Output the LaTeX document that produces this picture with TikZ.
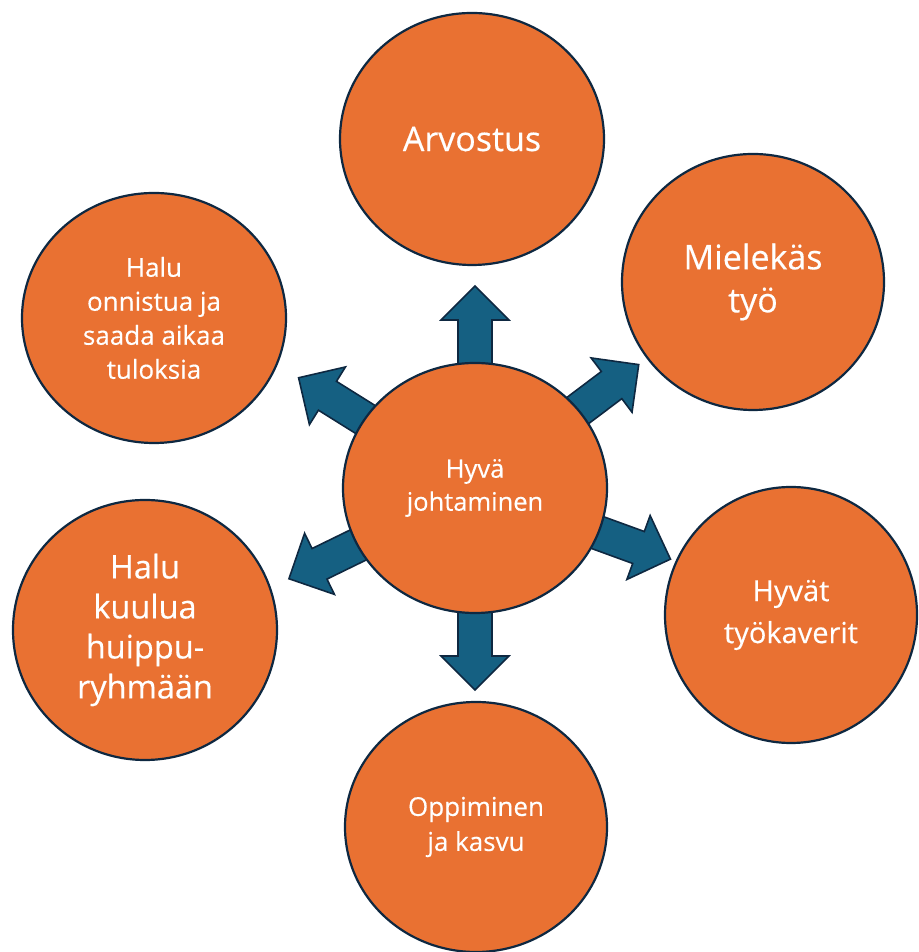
\documentclass[tikz,border=0pt]{standalone}
\usepackage{fontspec}
\setmainfont{Open Sans}[FakeBold=0.35]
\usetikzlibrary{shapes.geometric}
\definecolor{orangefill}{HTML}{E97132}
\definecolor{bluefill}{HTML}{156082}
\definecolor{darkline}{HTML}{0E2841}
\tikzset{
  bubble/.style={ellipse, draw=darkline, line width=2.2pt, fill=orangefill,
    text=white, align=center, inner sep=0pt},
  fatarrow/.style={draw=darkline, line width=1.6pt, fill=bluefill, line join=miter},
}
\begin{document}
\begin{tikzpicture}[x=1pt,y=1pt]
\useasboundingbox (0,0) rectangle (918,952);
\clip (0,0) rectangle (918,952);
\fill[white] (0,0) rectangle (918,952);
\coordinate (c) at (475,464);
% block arrows radiating from the centre
\foreach \a/\L in {90/202, 37/205, 148/208, 206/207, -20/208, -90/202} {
  \begin{scope}[shift={(c)}, rotate=\a]
    \draw[fatarrow] (0,-17) -- (\L-34,-17) -- (\L-34,-34) -- (\L,0)
      -- (\L-34,34) -- (\L-34,17) -- (0,17) -- cycle;
  \end{scope}
}
% circles
\node[bubble, minimum width=264, minimum height=250,
  font=\fontsize{25.5}{33}\selectfont] (cen) at (c) {Hyvä\\johtaminen};
\node[bubble, minimum width=264, minimum height=252,
  font=\fontsize{34}{40}\selectfont] (arv) at (472,813) {Arvostus};
\node[bubble, minimum width=262, minimum height=256,
  font=\fontsize{34}{43}\selectfont] (mie) at (753,670) {Mielekäs\\työ};
\node[bubble, minimum width=264, minimum height=250,
  font=\fontsize{26}{34}\selectfont] (onn) at (154,634) {Halu\\onnistua ja\\saada aikaa\\tuloksia};
\node[bubble, minimum width=264, minimum height=260,
  font=\fontsize{32.5}{40}\selectfont] (kuu) at (145,322) {Halu\\kuulua\\huippu-\\ryhmään};
\node[bubble, minimum width=252, minimum height=256,
  font=\fontsize{29}{42}\selectfont] (hyv) at (791,337) {Hyvät\\työkaverit};
\node[bubble, minimum width=262, minimum height=250,
  font=\fontsize{26}{35}\selectfont] (opp) at (476,125) {Oppiminen\\ja kasvu};
\end{tikzpicture}
\end{document}
